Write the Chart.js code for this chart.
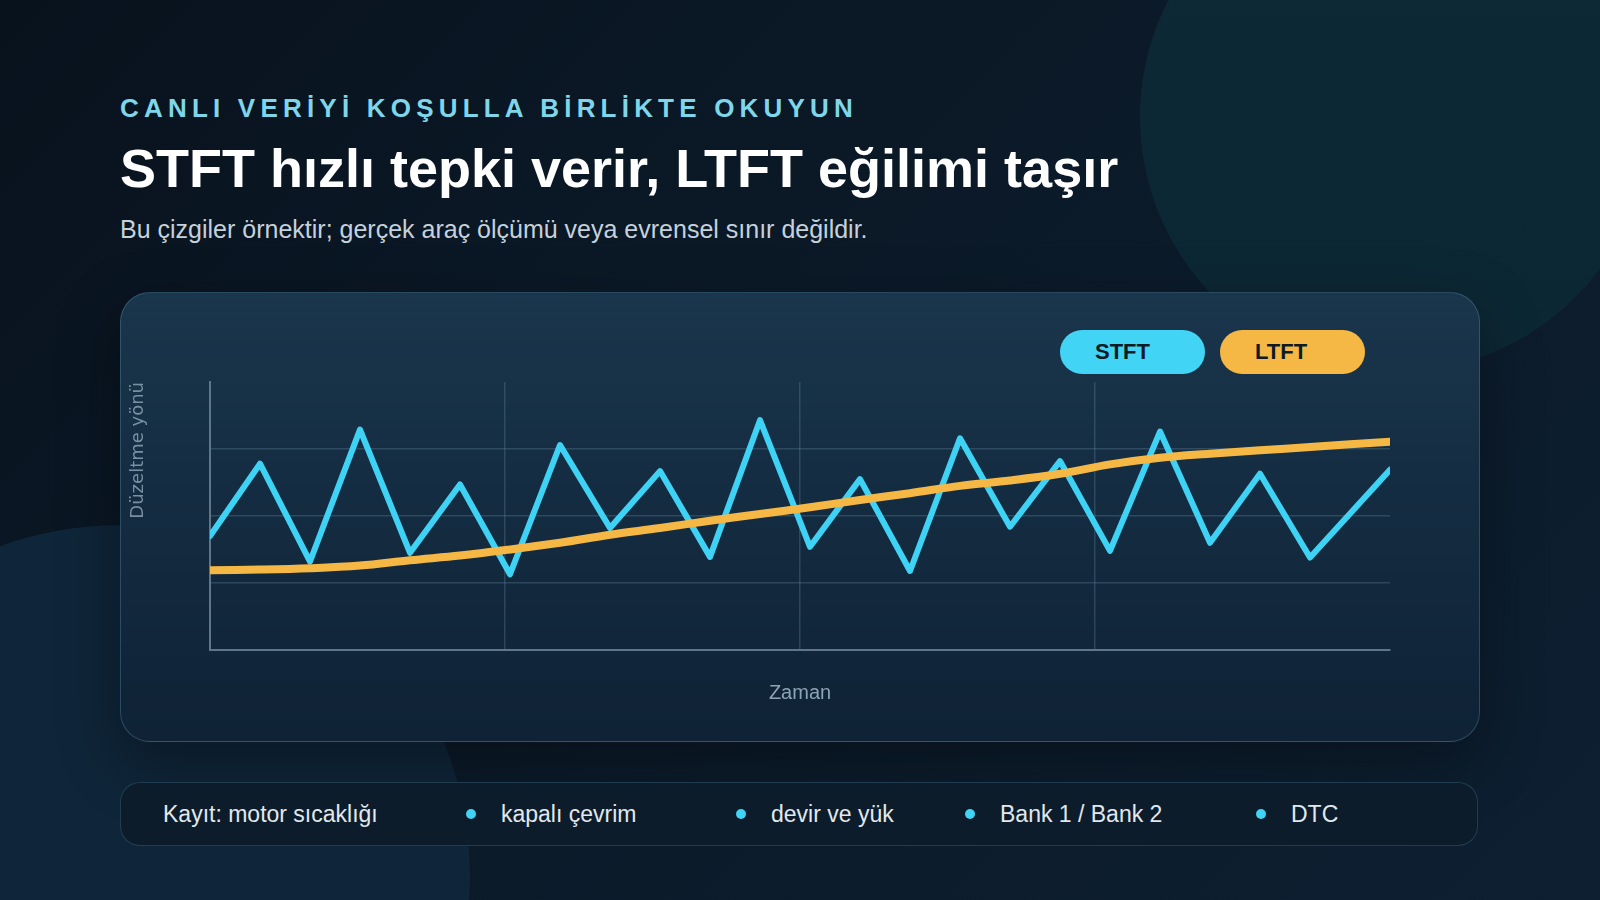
<!DOCTYPE html>
<html lang="tr">
<head>
<meta charset="utf-8">
<title>STFT / LTFT</title>
<script src="https://cdn.jsdelivr.net/npm/chart.js@4.4.1/dist/chart.umd.min.js"></script>
<style>
  html, body { margin: 0; padding: 0; }
  body {
    width: 1600px; height: 900px; overflow: hidden; position: relative;
    font-family: "Liberation Sans", Arial, sans-serif;
    background: linear-gradient(135deg, #08121d 0%, #0b1927 40%, #0d1f31 100%);
  }
  .blob { position: absolute; border-radius: 50%; }
  .blob.tr { left: 1140px; top: -138px; width: 510px; height: 510px;
    background: linear-gradient(180deg, #0d2936 0%, #0c2734 100%); }
  .blob.bl { left: -230px; top: 525px; width: 700px; height: 700px;
    background: #0f2539; }
  .kicker { position: absolute; left: 120px; top: 95px; margin: 0;
    font-size: 26px; line-height: 26px; font-weight: 700; letter-spacing: 0.2em; color: #7fd6ea; }
  h1 { position: absolute; left: 120px; top: 138px; margin: 0;
    font-size: 54px; line-height: 60px; font-weight: 700; color: #ffffff; }
  .sub { position: absolute; left: 120px; top: 214px; margin: 0;
    font-size: 25px; line-height: 30px; color: #c5d1dc; }
  .card { position: absolute; left: 120px; top: 292px; width: 1358px; height: 448px;
    border-radius: 30px; border: 1px solid rgba(96, 156, 186, 0.32);
    background: linear-gradient(180deg, #1a364c 0%, #142c41 45%, #0f2236 100%);
    box-shadow: 0 20px 60px rgba(0, 0, 0, 0.35); }
  .pill { position: absolute; top: 330px; width: 145px; height: 44px; border-radius: 22px;
    box-sizing: border-box; padding-left: 35px; font-size: 22px; line-height: 44px;
    font-weight: 700; color: #0d1b26; }
  .pill.stft { left: 1060px; background: #41d4f5; }
  .pill.ltft { left: 1220px; background: #f6b845; }
  #chartBox { position: absolute; left: 120px; top: 372px; width: 1360px; height: 360px; }
  .legend { position: absolute; left: 120px; top: 782px; width: 1358px; height: 64px;
    border-radius: 20px; border: 1px solid rgba(80, 140, 170, 0.3); background: #0c1c2a;
    display: flex; align-items: center; box-sizing: border-box; padding-left: 42px;
    font-size: 23px; color: #e1e8ee; }
  .legend .item { display: flex; align-items: center; white-space: nowrap; }
  .legend .dot { width: 10px; height: 10px; border-radius: 50%; background: #3fd3f4; margin-right: 25px; }
</style>
</head>
<body>
<div class="blob tr"></div>
<div class="blob bl"></div>

<p class="kicker">CANLI VERİYİ KOŞULLA BİRLİKTE OKUYUN</p>
<h1>STFT hızlı tepki verir, LTFT eğilimi taşır</h1>
<p class="sub">Bu çizgiler örnektir; gerçek araç ölçümü veya evrensel sınır değildir.</p>

<div class="card"></div>
<div class="pill stft">STFT</div>
<div class="pill ltft">LTFT</div>
<div id="chartBox"><canvas id="trim" width="1360" height="360"></canvas></div>

<div class="legend">
  <div class="item" style="width:303px">Kayıt: motor sıcaklığı</div>
  <div class="item" style="width:270px"><span class="dot"></span>kapalı çevrim</div>
  <div class="item" style="width:229px"><span class="dot"></span>devir ve yük</div>
  <div class="item" style="width:291px"><span class="dot"></span>Bank 1 / Bank 2</div>
  <div class="item"><span class="dot"></span>DTC</div>
</div>

<script>
// zaman (s) - last sample is a bit later than the others
const timeSec = [0, 5, 10, 15, 20, 25, 30, 35, 40, 45, 50, 55, 60, 65, 70, 75, 80, 85, 90, 95, 100, 105, 110, 118];
// short term fuel trim, jumps around
const stftValues = [-0.30, 0.78, -0.68, 1.29, -0.55, 0.47, -0.87, 1.06, -0.18, 0.67, -0.61, 1.43,
                    -0.46, 0.55, -0.82, 1.16, -0.16, 0.82, -0.52, 1.26, -0.40, 0.63, -0.62, 0.69];
// long term fuel trim, slow drift
const ltftValues = [-0.81, -0.80, -0.78, -0.74, -0.66, -0.59, -0.50, -0.40, -0.28, -0.18, -0.07, 0.03,
                    0.13, 0.24, 0.34, 0.45, 0.53, 0.63, 0.77, 0.87, 0.93, 0.98, 1.03, 1.11];

const yMin = -2, yMax = 2;
const xMax = 118;

const gridColor = 'rgba(110, 150, 175, 0.28)';
const axisColor = '#5d7688';

function pairs(xs, ys) {
    return xs.map((x, i) => ({ x: x, y: ys[i] }));
}

new Chart(document.getElementById('trim'), {
    type: 'line',
    data: {
        datasets: [{
            label: 'STFT',
            data: pairs(timeSec, stftValues),
            borderColor: '#3ed3f5',
            borderWidth: 6,
            borderJoinStyle: 'round',
            borderCapStyle: 'round',
            pointRadius: 0,
            tension: 0,
            order: 2
        }, {
            label: 'LTFT',
            data: pairs(timeSec, ltftValues),
            borderColor: '#f6b845',
            borderWidth: 8,
            borderCapStyle: 'round',
            pointRadius: 0,
            tension: 0.35,
            order: 1
        }]
    },
    options: {
        responsive: false,
        animation: false,
        layout: { padding: { left: 0, top: 10, right: 90, bottom: 27 } },
        plugins: {
            legend: { display: false },
            tooltip: { enabled: false }
        },
        scales: {
            x: {
                type: 'linear',
                min: 0,
                max: xMax,
                ticks: { display: false, stepSize: 29.5 },
                grid: {
                    drawTicks: false,
                    lineWidth: 1.5,
                    color: ctx => (ctx.tick && ctx.tick.value >= xMax) ? 'rgba(0,0,0,0)' : gridColor
                },
                border: { color: axisColor, width: 2 },
                title: {
                    display: true,
                    text: 'Zaman',
                    color: '#8ca3b5',
                    font: { family: 'Liberation Sans', size: 20 },
                    padding: { top: 0, bottom: 0 }
                },
                afterFit: scale => { scale.height = 55; }
            },
            y: {
                min: yMin,
                max: yMax,
                ticks: { display: false, stepSize: 1 },
                grid: {
                    drawTicks: false,
                    lineWidth: 1.5,
                    color: ctx => (ctx.tick && ctx.tick.value >= yMax) ? 'rgba(0,0,0,0)' : gridColor
                },
                border: { color: axisColor, width: 2 },
                title: {
                    display: true,
                    text: 'Düzeltme yönü',
                    align: 'end',
                    color: '#7890a2',
                    font: { family: 'DejaVu Sans', size: 18 },
                    padding: { top: 8, bottom: 0 }
                },
                afterFit: scale => { scale.width = 90; }
            }
        }
    }
});
</script>
</body>
</html>
